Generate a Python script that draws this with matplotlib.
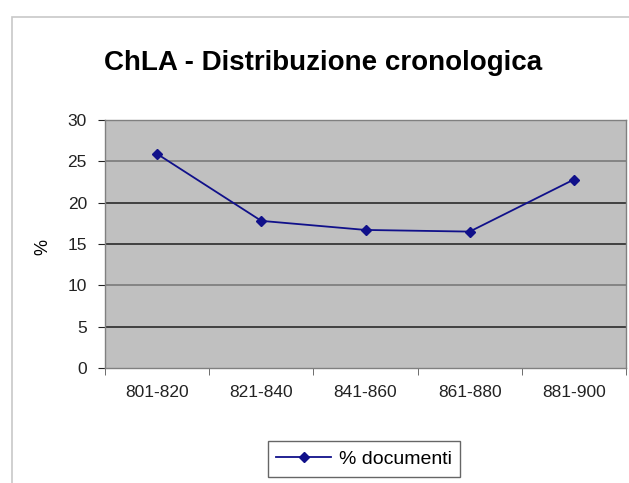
import matplotlib
matplotlib.use('Agg')
import matplotlib.pyplot as plt
from matplotlib.patches import Rectangle

plt.rcParams['font.family'] = ['Liberation Sans', 'DejaVu Sans']

periodi = ['801-820', '821-840', '841-860', '861-880', '881-900']
percentuali = [25.9, 17.8, 16.7, 16.5, 22.8]
yticks = [0, 5, 10, 15, 20, 25, 30]

fig = plt.figure(figsize=(6.29, 4.83), dpi=100)
W, H = 629, 483

# bordo dell'area del grafico (tagliato a destra e in basso)
fig.patches.append(Rectangle((12 / W, -0.1), 1.2, 1 - 17 / H + 0.1,
                             transform=fig.transFigure, fill=False,
                             edgecolor='#c8c8c8', lw=1.2))

ax = fig.add_axes([105 / W, 1 - 368 / H, (626 - 105) / W, (368 - 120) / H])
ax.set_facecolor('#c0c0c0')

x = list(range(len(periodi)))
ax.plot(x, percentuali, color='#10108a', lw=1.3, marker='D', markersize=5,
        label='% documenti')

ax.set_xlim(-0.5, len(periodi) - 0.5)
ax.set_ylim(0, 30)
ax.set_yticks(yticks)
ax.set_yticklabels([str(v) for v in yticks])
ax.set_xticks(x)
ax.set_xticklabels(periodi)
ax.set_xticks([i - 0.5 for i in range(len(periodi) + 1)], minor=True)
ax.tick_params(axis='x', which='major', length=0, pad=12, labelsize=12.5,
               colors='#222222')
ax.tick_params(axis='x', which='minor', length=5, direction='out',
               color='#555555')
ax.tick_params(axis='y', length=5, direction='out', pad=8, labelsize=12.5,
               colors='#222222')

ax.yaxis.grid(True, lw=1.2)
ax.set_axisbelow(True)
grid_colors = ['#c0c0c0', '#2a2a2a', '#7a7a7a', '#2a2a2a', '#2a2a2a', '#7a7a7a', '#7a7a7a']
for gl, c in zip(ax.get_ygridlines(), grid_colors):
    gl.set_color(c)

for s in ax.spines.values():
    s.set_color('#808080')
    s.set_linewidth(1)

fig.text(323 / W, 1 - 63 / H, 'ChLA - Distribuzione cronologica',
         ha='center', va='center', fontsize=20, fontweight='bold')
fig.text(43 / W, 1 - 247 / H, '%', ha='center', va='center',
         rotation=90, fontsize=13)

leg = fig.legend(loc='center', bbox_to_anchor=(364 / W, 1 - 459 / H),
                 fontsize=14, frameon=True, fancybox=False,
                 handlelength=2.8, borderpad=0.45, handletextpad=0.4)
leg.get_frame().set_edgecolor('#404040')
leg.get_frame().set_linewidth(1)

fig.savefig('out.png', dpi=100)
